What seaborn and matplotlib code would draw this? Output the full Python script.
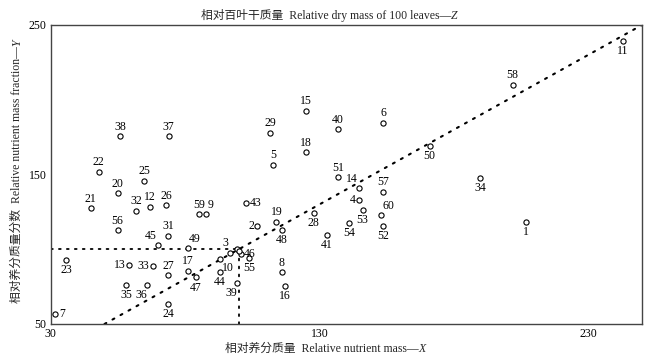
import matplotlib
matplotlib.use("Agg")
import matplotlib.pyplot as plt
import seaborn as sns
import pandas as pd

# ---- data ----
ids = ["1","2","3","4","5","6","7","8","9","10",
       "11","12","13","14","15","16","17","18","19","20",
       "21","22","23","24","25","26","27","28","29","31",
       "32","33","34","35","36","37","38","39","40","41",
       "43","44","45","46","47","48","49","50","51","52",
       "53","54","55","56","57","58","59","60","30","42"]
x_vals = [206.9,106.9,96.7,144.8,112.8,153.8,31.7,116.0,87.8,93.0,
          242.9,67.0,59.1,144.8,124.9,117.1,81.0,124.9,114.0,54.9,
          44.9,47.9,35.8,73.8,64.8,72.9,73.8,127.9,111.7,73.8,
          61.9,68.0,189.9,58.1,66.0,73.9,55.8,99.2,136.9,132.8,
          102.8,93.0,70.0,100.7,84.0,116.0,81.0,171.0,136.9,153.8,
          146.0,141.0,103.9,54.9,153.8,201.9,85.1,152.9,99.2,100.0]
y_vals = [118.4,115.8,97.7,132.7,156.6,184.6,56.7,84.6,123.4,93.8,
          239.5,128.3,89.5,140.8,192.5,75.4,85.7,164.8,118.4,137.6,
          127.6,151.7,92.6,63.6,145.7,129.4,82.6,124.4,177.8,108.9,
          125.6,89.0,147.7,76.3,76.3,175.6,175.6,77.6,180.4,109.5,
          130.6,84.6,102.8,96.8,81.2,112.7,100.6,169.0,148.1,115.8,
          126.5,117.6,94.4,112.7,138.6,209.9,123.4,122.7,100.2,98.8]
x_ticks = [30, 130, 230]
y_ticks = [50, 150, 250]
title_text = "相对百叶干质量  Relative dry mass of 100 leaves—"
xlabel_text = "相对养分质量  Relative nutrient mass—"
ylabel_text = "相对养分质量分数  Relative nutrient mass fraction—"

# ---- label placement (layout only) ----
place = {"1":"b","2":"l","3":"al","4":"l","7":"r","9":"ar","10":"br","11":"b",
         "13":"l","14":"al","16":"b","23":"b","24":"b","28":"b","33":"l","34":"b",
         "35":"b","36":"bl","39":"bl","41":"b","43":"r","44":"b","45":"al","46":"r",
         "47":"b","48":"b","49":"ar","50":"b","52":"b","53":"b","54":"b","55":"b",
         "60":"ar","30":None,"42":None}
offs = {"a":(0,2.5,"center","bottom"),"b":(0,-3,"center","top"),
        "l":(-2.5,0,"right","center"),"r":(2.5,0,"left","center"),
        "al":(-1,2.5,"right","bottom"),"ar":(1,2.5,"left","bottom"),
        "bl":(0,-3,"right","top"),"br":(1.5,-2.5,"left","top")}

df = pd.DataFrame({"id": ids, "x": x_vals, "y": y_vals})

sns.set_theme(style="white")
plt.rcParams["font.family"] = ["Liberation Serif", "Noto Sans CJK SC"]
plt.rcParams["axes.unicode_minus"] = False

fig = plt.figure(figsize=(6.52, 3.59), dpi=100)
ax = fig.add_axes([0.0778, 0.0975, 0.9847 - 0.0778, 0.9304 - 0.0975])

# reference lines
ls = (0, (1, 3.4))
ax.plot([50, 250], [50, 250], linestyle=ls, color="black", lw=1.5,
        dash_capstyle="round", zorder=1)
ax.plot([30, 100], [100, 100], linestyle=ls, color="black", lw=1.3,
        dash_capstyle="round", zorder=1)
ax.plot([100, 100], [50, 100], linestyle=ls, color="black", lw=1.3,
        dash_capstyle="round", zorder=1)

sns.scatterplot(data=df, x="x", y="y", ax=ax, marker="o", s=14,
                facecolor="white", edgecolor="black", linewidth=0.8, zorder=3)

for _, r in df.iterrows():
    key = place.get(r["id"], "a")
    if key is None:
        continue
    dx, dy, ha, va = offs[key]
    ax.annotate(r["id"], (r["x"], r["y"]), xytext=(dx, dy), textcoords="offset points",
                ha=ha, va=va, fontsize=8.5, color="black", zorder=4)

ax.set_xlim(30, 250)
ax.set_ylim(50, 250)
ax.set_xticks(x_ticks)
ax.set_yticks(y_ticks)
ax.tick_params(direction="in", length=3, width=0.8, labelsize=8.5, colors="black", pad=3)
for s in ax.spines.values():
    s.set_color("#444444")
    s.set_linewidth(1.0)

fs = 8.5
xl = ax.set_xlabel(xlabel_text, fontsize=fs)
ax.xaxis.set_label_coords(0.458, -0.082)
xl.set_va("center")
yl = ax.set_ylabel(ylabel_text, fontsize=fs, labelpad=4)
tt = ax.set_title(title_text, fontsize=fs, x=0.465, pad=4)
fig.canvas.draw()
ax.annotate("X", xy=(1, 0), xycoords=xl, ha="left", va="bottom",
            fontsize=fs, fontstyle="italic", annotation_clip=False)
ax.annotate("Y", xy=(0, 1), xycoords=yl, ha="left", va="bottom", rotation=90,
            fontsize=fs, fontstyle="italic", annotation_clip=False)
ax.annotate("Z", xy=(1, 0), xycoords=tt, ha="left", va="bottom",
            fontsize=fs, fontstyle="italic", annotation_clip=False)

fig.savefig("out.png", dpi=100, facecolor="white")
